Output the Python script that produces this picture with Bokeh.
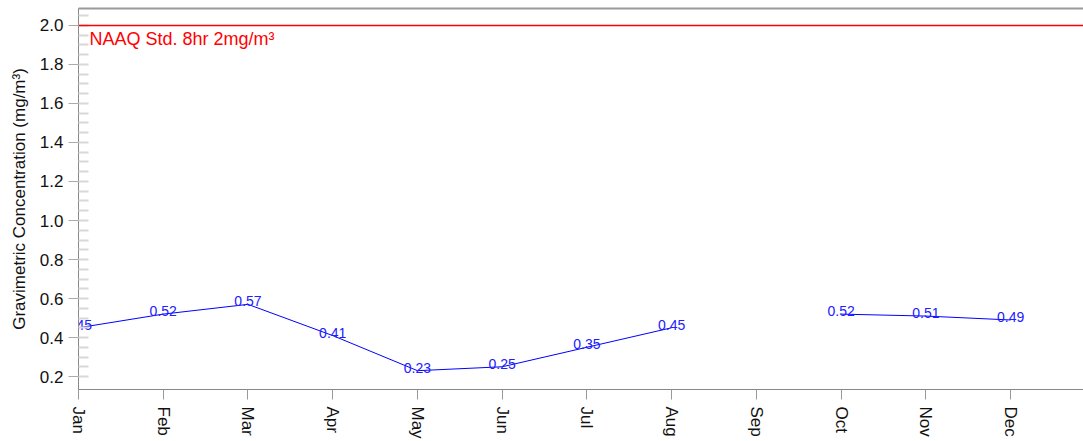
import math
from bokeh.plotting import figure
from bokeh.models import (FixedTicker, NumeralTickFormatter, Span, Label, LinearAxis,
                          Range1d, ColumnDataSource)
from bokeh.core.properties import value
from bokeh.embed import file_html
from bokeh.resources import INLINE

# ---- data ----
months = ["Jan", "Feb", "Mar", "Apr", "May", "Jun", "Jul", "Aug", "Sep", "Oct", "Nov", "Dec"]
conc = [0.45, 0.52, 0.57, 0.41, 0.23, 0.25, 0.35, 0.45, None, 0.52, 0.51, 0.49]
naaq_std = 2.0
naaq_label = "NAAQ Std. 8hr 2mg/m\u00b3"
y_ticks = [0.2, 0.4, 0.6, 0.8, 1.0, 1.2, 1.4, 1.6, 1.8, 2.0]
y_minor = [round(0.2 + 0.05 * i, 2) for i in range(38)]
y_title = "Gravimetric Concentration (mg/m\u00b3)"

x_idx = list(range(len(months)))
y_vals = [float("nan") if v is None else v for v in conc]
line_src = ColumnDataSource(dict(x=x_idx, y=y_vals))
lab_src = ColumnDataSource(dict(
    x=[i for i, v in zip(x_idx, conc) if v is not None],
    y=[v for v in conc if v is not None],
    t=["%.2f" % v for v in conc if v is not None],
))

FONT = "Liberation Sans"

p = figure(width=1083, height=441, x_range=Range1d(0, 11.86), y_range=Range1d(0.1335, 2.087),
           output_backend="svg", toolbar_location=None,
           min_border_left=78, min_border_right=0, min_border_top=8, min_border_bottom=50)
p.xgrid.visible = False
p.ygrid.visible = False
p.outline_line_color = None
p.background_fill_color = "white"
p.border_fill_color = "white"

xa = p.below[0]
ya = p.left[0]

# x axis
xa.ticker = FixedTicker(ticks=x_idx)
xa.major_label_overrides = {i: m for i, m in zip(x_idx, months)}
xa.major_label_orientation = -math.pi / 2
xa.major_label_text_font = FONT
xa.major_label_text_font_size = "17px"
xa.major_label_text_color = "#111111"
xa.major_label_standoff = 7
xa.axis_line_color = "#888888"
xa.major_tick_line_color = "#999999"
xa.major_tick_out = 10
xa.major_tick_in = 0
xa.minor_tick_line_color = None

# y axis
ya.ticker = FixedTicker(ticks=y_ticks, minor_ticks=y_minor)
ya.formatter = NumeralTickFormatter(format="0.0")
ya.major_label_text_font = FONT
ya.major_label_text_font_size = "17px"
ya.major_label_text_color = "#111111"
ya.major_label_standoff = 5
ya.axis_line_color = "#888888"
ya.major_tick_line_color = "#aaaaaa"
ya.major_tick_out = 10
ya.major_tick_in = 0
ya.minor_tick_line_color = "#d8d8d8"
ya.minor_tick_line_width = 2
ya.minor_tick_in = 10
ya.minor_tick_out = 0
ya.axis_label = y_title
ya.axis_label_text_font = FONT
ya.axis_label_text_font_size = "17px"
ya.axis_label_text_font_style = "normal"
ya.axis_label_text_color = "#111111"
ya.axis_label_standoff = 8

# top border line
top = LinearAxis(ticker=FixedTicker(ticks=[]), major_tick_out=0, major_tick_in=0,
                 minor_tick_out=0, minor_tick_in=0, major_label_text_font_size="0px",
                 major_label_standoff=0, axis_line_color="#9a9a9a", axis_line_width=2)
p.add_layout(top, "above")

# NAAQ standard
p.add_layout(Span(location=naaq_std, dimension="width", line_color="#ff0000", line_width=1.5))
p.add_layout(Label(x=0, y=naaq_std, text=naaq_label, x_offset=11, y_offset=-4,
                   text_baseline="top", text_align="left", text_color="#ff0000",
                   text_font=FONT, text_font_size="18px"))

# series
p.line("x", "y", source=line_src, line_color="#0000ff", line_width=1)
p.text("x", "y", text="t", source=lab_src, text_align="center", text_baseline="alphabetic",
       y_offset=-3, text_color="#2020ff", text_font=value(FONT), text_font_size="14px")

open("out.html", "w").write(file_html(p, INLINE))
